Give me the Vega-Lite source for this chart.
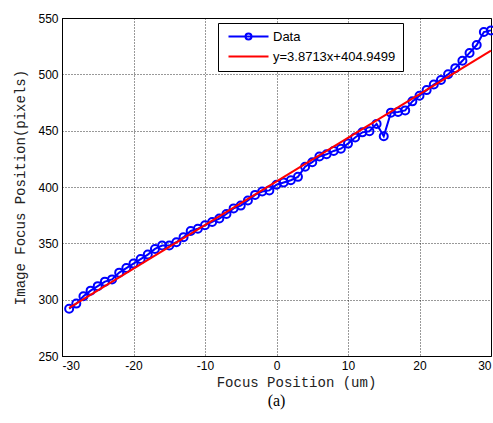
{
  "$schema": "https://vega.github.io/schema/vega-lite/v6.json",
  "width": 429,
  "height": 338,
  "autosize": {"type": "none"},
  "padding": {"left": 62, "top": 18, "right": 2, "bottom": 67},
  "background": "white",
  "title": {"text": "(a)", "orient": "bottom", "anchor": "middle", "frame": "group", "font": "Liberation Serif", "fontSize": 16, "fontWeight": "normal", "color": "black", "offset": 4},
  "config": {
    "view": {"stroke": "black", "strokeWidth": 1},
    "axis": {
      "grid": true, "gridColor": "black", "gridDash": [1, 2], "gridOpacity": 0.8, "gridWidth": 1,
      "domain": true, "domainColor": "black", "ticks": false,
      "labelFont": "Liberation Sans", "labelFontSize": 12, "labelColor": "black",
      "labelExpr": "datum.value < 0 ? '-' + abs(datum.value) : '' + datum.value",
      "titleFont": "Liberation Mono", "titleFontSize": 14, "titleFontWeight": "normal", "titleColor": "#222"
    }
  },
  "datasets": {
    "pts": [
      {"x": -29, "y": 292}, {"x": -28, "y": 296.5}, {"x": -27, "y": 303}, {"x": -26, "y": 308}, {"x": -25, "y": 312},
      {"x": -24, "y": 316}, {"x": -23, "y": 318}, {"x": -22, "y": 324}, {"x": -21, "y": 328}, {"x": -20, "y": 332},
      {"x": -19, "y": 336}, {"x": -18, "y": 340}, {"x": -17, "y": 345}, {"x": -16, "y": 348}, {"x": -15, "y": 348},
      {"x": -14, "y": 351}, {"x": -13, "y": 355.5}, {"x": -12, "y": 361}, {"x": -11, "y": 363}, {"x": -10, "y": 366},
      {"x": -9, "y": 369}, {"x": -8, "y": 372}, {"x": -7, "y": 376}, {"x": -6, "y": 381}, {"x": -5, "y": 383.5},
      {"x": -4, "y": 388}, {"x": -3, "y": 393}, {"x": -2, "y": 396}, {"x": -1, "y": 397}, {"x": 0, "y": 402},
      {"x": 1, "y": 404}, {"x": 2, "y": 406}, {"x": 3, "y": 409}, {"x": 4, "y": 418}, {"x": 5, "y": 422},
      {"x": 6, "y": 427}, {"x": 7, "y": 429}, {"x": 8, "y": 432}, {"x": 9, "y": 434}, {"x": 10, "y": 438.5},
      {"x": 11, "y": 444}, {"x": 12, "y": 448.5}, {"x": 13, "y": 449.5}, {"x": 14, "y": 456}, {"x": 15, "y": 445},
      {"x": 16, "y": 466}, {"x": 17, "y": 466.5}, {"x": 18, "y": 468}, {"x": 19, "y": 476}, {"x": 20, "y": 481},
      {"x": 21, "y": 486}, {"x": 22, "y": 491}, {"x": 23, "y": 495}, {"x": 24, "y": 500}, {"x": 25, "y": 505.5},
      {"x": 26, "y": 512}, {"x": 27, "y": 519}, {"x": 28, "y": 526}, {"x": 29, "y": 537.5}, {"x": 30, "y": 539}
    ],
    "fit": [
      {"x": -29, "y": 292.68},
      {"x": 30, "y": 521.09}
    ]
  },
  "encoding": {
    "x": {"field": "x", "type": "quantitative",
      "scale": {"domain": [-30, 30], "nice": false, "zero": false},
      "axis": {"title": "Focus Position (um)", "values": [-30, -20, -10, 0, 10, 20, 30], "labelPadding": 4, "titleX": 234, "titlePadding": 4}},
    "y": {"field": "y", "type": "quantitative",
      "scale": {"domain": [250, 550], "nice": false, "zero": false},
      "axis": {"title": "Image Focus Position(pixels)", "values": [250, 300, 350, 400, 450, 500, 550], "labelPadding": 4, "titlePadding": 10}}
  },
  "layer": [
    {
      "data": {"name": "pts"},
      "transform": [{"calculate": "'Data'", "as": "series"}],
      "mark": {"type": "line", "strokeWidth": 2, "point": {"filled": false, "size": 64, "strokeWidth": 2, "color": "#0000ff"}},
      "encoding": {
        "color": {"field": "series", "type": "nominal",
          "scale": {"domain": ["Data", "y=3.8713x+404.9499"], "range": ["#0000ff", "#ff0000"]},
          "legend": {
            "title": null, "orient": "none", "legendX": 156, "legendY": 5,
            "strokeColor": "black", "fillColor": "white", "padding": 7,
            "symbolSize": 100, "symbolStrokeWidth": 2, "symbolOffset": 2,
            "labelFont": "Liberation Sans", "labelFontSize": 13, "labelColor": "black", "labelOffset": 33,
            "rowPadding": 6,
            "encode": {"symbols": {"update": {
              "shape": {"signal": "datum.label === 'Data' ? 'M-1,0H7M2.4,0A0.6,0.6,0,1,1,3.6,0A0.6,0.6,0,1,1,2.4,0' : 'M-1,0H7'"},
              "fill": {"value": "transparent"},
              "strokeWidth": {"value": 2}
            }}}
          }}
      }
    },
    {
      "data": {"name": "fit"},
      "transform": [{"calculate": "'y=3.8713x+404.9499'", "as": "series"}],
      "mark": {"type": "line", "strokeWidth": 2},
      "encoding": {
        "color": {"field": "series", "type": "nominal"}
      }
    }
  ]
}
